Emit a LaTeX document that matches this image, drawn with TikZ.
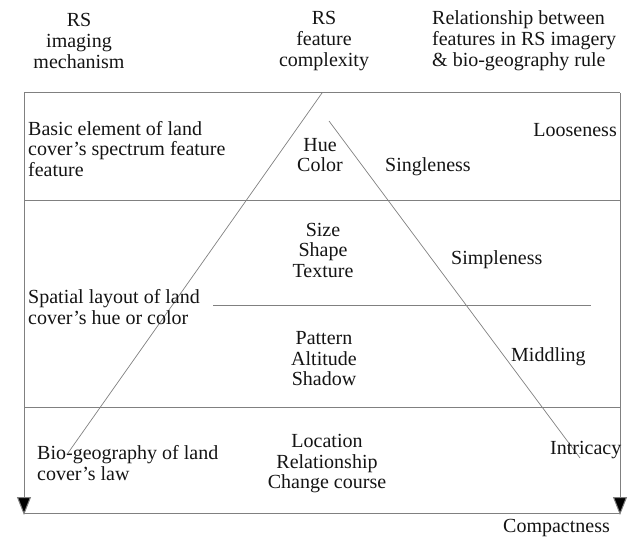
\documentclass[tikz,border=0pt]{standalone}
\usepackage{fontspec}
\setmainfont{Liberation Serif}
\usetikzlibrary{arrows.meta}
\tikzset{
  ln/.style={draw=black!50, line width=1pt},
  arr/.style={ln, -{Triangle[length=18pt,width=14pt,fill=black]}},
  txt/.style={inner sep=0pt, font=\fontsize{20}{20.5}\selectfont, text=black!92},
  hdr/.style={txt, font=\fontsize{20}{21}\selectfont},
}
\begin{document}
\begin{tikzpicture}[x=1pt,y=-1pt]
\useasboundingbox (0,0) rectangle (636,540);
% frame coordinates
\coordinate (TL) at (24,93);
\coordinate (TR) at (620,93);
\coordinate (BL) at (24,515);
\coordinate (BR) at (620,515);
\coordinate (BLb) at (24,513);
\coordinate (BRb) at (620,513);
\coordinate (H1L) at (24,200);
\coordinate (H1R) at (620,200);
\coordinate (H2L) at (213,305);
\coordinate (H2R) at (591,305);
\coordinate (H3L) at (24,407);
\coordinate (H3R) at (620,407);
\coordinate (apexL) at (322,93);
\coordinate (footL) at (68,453);
\coordinate (apexR) at (329,121);
\coordinate (footR) at (580,458);
% frame
\draw[ln] (TL) -- (TR);
\draw[arr] (TL) -- (BL);
\draw[arr] (TR) -- (BR);
\draw[ln] (BLb) -- (BRb);
\draw[ln] (H1L) -- (H1R);
\draw[ln] (H2L) -- (H2R);
\draw[ln] (H3L) -- (H3R);
\draw[ln, line width=0.7pt] (apexL) -- (footL);
\draw[ln, line width=0.7pt] (apexR) -- (footR);
% headers
\node[hdr, align=center] (h1) at (79,41) {RS\\imaging\\mechanism};
\node[hdr, align=center] (h2) at (324,41) {RS\\feature\\complexity};
\node[hdr, align=left, anchor=west] (h3) at (432,41) {Relationship between\\features in RS imagery\\\& bio-geography rule};
% left column
\node[txt, align=left, anchor=west] (l1) at (28,149) {Basic element of land\\cover’s spectrum feature\\feature};
\node[txt, align=left, anchor=west] (l2) at (28,307) {Spatial layout of land\\cover’s hue or color};
\node[txt, align=left, anchor=west] (l3) at (37,463) {Bio-geography of land\\cover’s law};
% middle column
\node[txt, align=center] (m1) at (320,155) {Hue\\Color};
\node[txt, align=center] (m2) at (323,250) {Size\\Shape\\Texture};
\node[txt, align=center] (m3) at (324,359) {Pattern\\Altitude\\Shadow};
\node[txt, align=center] (m4) at (327,464) {Location\\Relationship\\Change course};
% right column
\node[txt, anchor=east] (r0) at (617,130) {Looseness};
\node[txt, anchor=west] (r1) at (385,167) {Singleness};
\node[txt, anchor=west] (r2) at (451,260) {Simpleness};
\node[txt, anchor=west] (r3) at (511,357) {Middling};
\node[txt, anchor=west] (r4) at (550,450) {Intricacy};
\node[txt, anchor=west] (r5) at (503,528) {Compactness};
\end{tikzpicture}
\end{document}
